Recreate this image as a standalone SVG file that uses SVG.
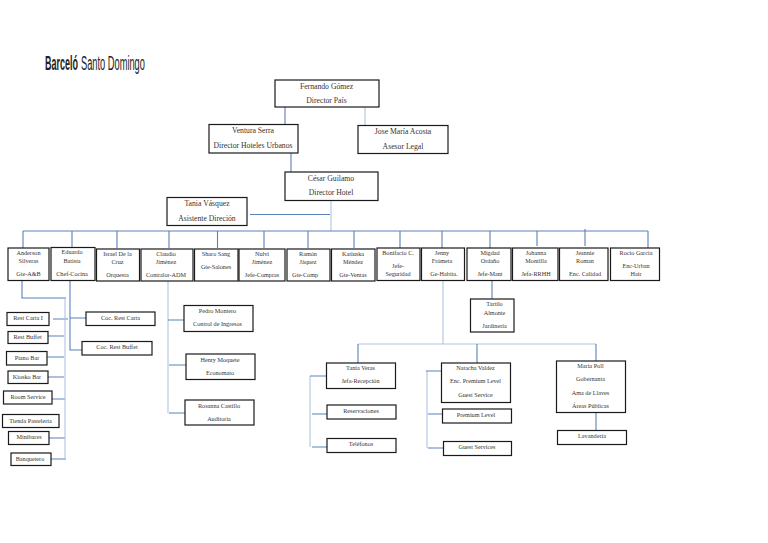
<svg xmlns="http://www.w3.org/2000/svg" width="768" height="543" viewBox="0 0 768 543">
<style>
rect{fill:#fff;stroke:#1a1a1a;stroke-width:1.2}
text{font-family:"Liberation Serif","Times New Roman",serif;fill:#333;text-anchor:middle}
.l{font-size:7.7px}
.s{font-size:6.2px}
.c path{fill:none;stroke:#5b80b9;stroke-width:1.1}
.c path.p{stroke:#afc3e1;stroke-width:1.1}
.logo{font-family:"Liberation Sans",Arial,sans-serif;font-size:20px;text-anchor:start;fill:#222}
</style>
<g id="logo"><text class="logo" transform="translate(45 70) scale(.45 1)" font-weight="700">Barceló</text><text class="logo" transform="translate(81 70) scale(.464 1)">Santo Domingo</text></g>
<g id="connectors" class="c">
<path d="M285 107V124M291 153V172"/>
<path class="p" d="M365 107V125M331 200V231"/>
<path d="M250 214.500H330"/>
<path d="M23 231H648M23 231V248M72 231V247M117 231V248M169 231V248M217.500 231V248M264 231V248M308 231V248M354 231V248M400 231V248M442 231V248M490 231V248M537 231V246M585 229V246M648 231V248"/>
<path d="M22 281V298H66M70 281V350H82M70 318H86M53 319H68M48 336H64M47 357H64M48 377H64M52 399H65M49 438H65M51 459H66"/>
<path class="p" d="M65 298V459"/>
<path class="p" d="M168 281V413"/>
<path d="M168 320H184M169 365H186M169 413H185"/>
<path class="p" d="M443 281V344M358 344H596"/>
<path d="M492 281V299M358 344V363M477 344V363M596 344V361M596 412V430"/>
<path class="p" d="M310 376V447M427 371V448"/>
<path d="M310 376H326M312 414H327M312 447H327M426 371H441M428 414H442M428 448H443"/>
</g>
<g id="n-fernando"><rect x="275" y="80" width="104" height="27"/><text class="l" x="326.500" y="88.500">Fernando Gómez</text><text class="l" x="326.500" y="102.500">Director País</text></g>
<g id="n-ventura"><rect x="209" y="124.500" width="89" height="28.500"/><text class="l" x="253" y="133">Ventura Serra</text><text class="l" x="253" y="148">Director Hoteles Urbanos</text></g>
<g id="n-jose"><rect x="358" y="125.500" width="90" height="28"/><text class="l" x="403" y="134">Jose María Acosta</text><text class="l" x="403" y="148.500">Asesor Legal</text></g>
<g id="n-cesar"><rect x="285" y="172" width="93" height="28.500"/><text class="l" x="331" y="180.500">César Guilamo</text><text class="l" x="331" y="194.500">Director Hotel</text></g>
<g id="n-tania-a"><rect x="167" y="197.500" width="80" height="28"/><text class="l" x="207" y="205.500">Tania Vásquez</text><text class="l" x="207" y="220.500">Asistente Direción</text></g>
<g id="n-anderson"><rect x="8" y="248" width="41" height="32.500"/><text class="s" x="28.500" y="255">Anderson</text><text class="s" x="28.500" y="263">Silveras</text><text class="s" x="28.500" y="276">Gte-A&amp;B</text></g>
<g id="n-eduardo"><rect x="51" y="247.500" width="44" height="33"/><text class="s" x="72" y="254">Eduardo</text><text class="s" x="72" y="263">Batista</text><text class="s" x="72" y="276">Chef-Cocina</text></g>
<g id="n-israel"><rect x="96.500" y="249" width="43" height="32"/><text class="s" x="117.500" y="256">Israel De la</text><text class="s" x="117.500" y="264">Cruz</text><text class="s" x="117.500" y="277">Orquesta</text></g>
<g id="n-claudio"><rect x="141" y="249" width="52" height="32"/><text class="s" x="166" y="256">Claudio</text><text class="s" x="166" y="264">Jiménez</text><text class="s" x="166" y="277">Contralor-ADM</text></g>
<g id="n-sharo"><rect x="194.500" y="249" width="43.500" height="32"/><text class="s" x="216" y="256">Sharo Sang</text><text class="s" x="216" y="269">Gte-Salones</text></g>
<g id="n-nulvi"><rect x="239" y="249" width="46" height="32"/><text class="s" x="262" y="256">Nulvi</text><text class="s" x="262" y="264">Jiménez</text><text class="s" x="262" y="277">Jefe-Compras</text></g>
<g id="n-ramon"><rect x="287" y="249" width="43" height="32"/><text class="s" x="308" y="256">Ramón</text><text class="s" x="308" y="264">Jáquez</text><text class="s" x="305" y="277">Gte-Comp</text></g>
<g id="n-katiuska"><rect x="331.500" y="249" width="43.500" height="32"/><text class="s" x="353" y="256">Katiuska</text><text class="s" x="353" y="264">Méndez</text><text class="s" x="353" y="277">Gte-Ventas</text></g>
<g id="n-bonifacio"><rect x="377" y="248" width="43" height="32.500"/><text class="s" x="398" y="255">Bonifacio C.</text><text class="s" x="398" y="268">Jefe-</text><text class="s" x="398" y="276">Seguridad</text></g>
<g id="n-jenny"><rect x="421.500" y="248" width="43" height="32.500"/><text class="s" x="442" y="255">Jenny</text><text class="s" x="442" y="263">Frómeta</text><text class="s" x="444" y="276">Ge-Habita.</text></g>
<g id="n-migdad"><rect x="467" y="248" width="44" height="32.500"/><text class="s" x="490" y="255">Migdad</text><text class="s" x="490" y="263">Ordaño</text><text class="s" x="490" y="276">Jefe-Mant</text></g>
<g id="n-johanna"><rect x="512.500" y="248" width="45.500" height="32.500"/><text class="s" x="536" y="255">Johanna</text><text class="s" x="536" y="263">Montilla</text><text class="s" x="536" y="276">Jefa-RRHH</text></g>
<g id="n-jeannie"><rect x="559.500" y="248" width="48.500" height="32.500"/><text class="s" x="585" y="255">Jeannie</text><text class="s" x="585" y="263">Roman</text><text class="s" x="585" y="276">Enc. Calidad</text></g>
<g id="n-rocio"><rect x="610.500" y="248" width="49" height="32.500"/><text class="s" x="636" y="255">Rocio García</text><text class="s" x="636" y="268">Enc-Urban</text><text class="s" x="636" y="276">Hair</text></g>
<g id="n-rest-carta"><rect x="7" y="312.500" width="42" height="13"/><text class="s" x="28" y="320">Rest Carta I</text></g>
<g id="n-rest-buffet"><rect x="8" y="331.500" width="40" height="12"/><text class="s" x="27.500" y="339">Rest Buffet</text></g>
<g id="n-piano"><rect x="6.500" y="351.500" width="40.500" height="13.500"/><text class="s" x="27" y="360">Piano Bar</text></g>
<g id="n-kiosko"><rect x="8" y="371" width="40" height="12.500"/><text class="s" x="27" y="379">Kiosko Bar</text></g>
<g id="n-room"><rect x="3.500" y="391" width="48.500" height="13"/><text class="s" x="28" y="399">Room Service</text></g>
<g id="n-tienda"><rect x="2.500" y="414.500" width="56.500" height="13"/><text class="s" x="30.500" y="422.500">Tienda Pastelería</text></g>
<g id="n-minibares"><rect x="8.500" y="431.500" width="40.500" height="13"/><text class="s" x="29" y="439">Minibares</text></g>
<g id="n-banquetero"><rect x="11" y="453" width="40" height="12.500"/><text class="s" x="30" y="461">Banquetero</text></g>
<g id="n-coc-carta"><rect x="86" y="312" width="69" height="13.500"/><text class="s" x="120.500" y="320">Coc. Rest Carta</text></g>
<g id="n-coc-buffet"><rect x="82" y="341.500" width="70" height="13.500"/><text class="s" x="117" y="349">Coc. Rest Buffet</text></g>
<g id="n-pedro"><rect x="184" y="305.500" width="69" height="26"/><text class="s" x="217.500" y="313">Pedro Montero</text><text class="s" x="217.500" y="326">Control de Ingresos</text></g>
<g id="n-henry"><rect x="186" y="354" width="69" height="25.500"/><text class="s" x="220" y="361.500">Henry Moquete</text><text class="s" x="220" y="374.500">Economato</text></g>
<g id="n-rosanna"><rect x="185" y="400" width="69" height="25"/><text class="s" x="219" y="407.500">Rosanna Castillo</text><text class="s" x="219" y="420.500">Auditoría</text></g>
<g id="n-tartilo"><rect x="470.500" y="299" width="43.500" height="33"/><text class="s" x="494.500" y="306">Tartilo</text><text class="s" x="494.500" y="315">Almonte</text><text class="s" x="494.500" y="328">Jardinería</text></g>
<g id="n-tania-v"><rect x="326.500" y="363" width="69" height="25.500"/><text class="s" x="360.500" y="370">Tania Veras</text><text class="s" x="360.500" y="383">Jefa-Recepción</text></g>
<g id="n-reserv"><rect x="327" y="405" width="69" height="14"/><text class="s" x="361" y="413">Reservaciones</text></g>
<g id="n-telef"><rect x="327" y="438.500" width="69" height="14"/><text class="s" x="361" y="446">Teléfonos</text></g>
<g id="n-natacha"><rect x="441.500" y="363" width="69" height="39.500"/><text class="s" x="475.500" y="370">Natacha Valdez</text><text class="s" x="475.500" y="383">Enc. Premium Level</text><text class="s" x="475.500" y="396.500">Guest Service</text></g>
<g id="n-premium"><rect x="442.500" y="409" width="69" height="14"/><text class="s" x="476" y="416.500">Premium Level</text></g>
<g id="n-guest"><rect x="443.500" y="441.500" width="68" height="14"/><text class="s" x="477" y="449">Guest Services</text></g>
<g id="n-maria"><rect x="556.500" y="361" width="69" height="51.500"/><text class="s" x="590.500" y="368">María Poll</text><text class="s" x="590.500" y="381">Gobernanta</text><text class="s" x="590.500" y="394.500">Ama de Llaves</text><text class="s" x="590.500" y="407.500">Áreas Públicas</text></g>
<g id="n-lavanderia"><rect x="557.500" y="430.500" width="69" height="14"/><text class="s" x="592" y="438">Lavandería</text></g>
</svg>
